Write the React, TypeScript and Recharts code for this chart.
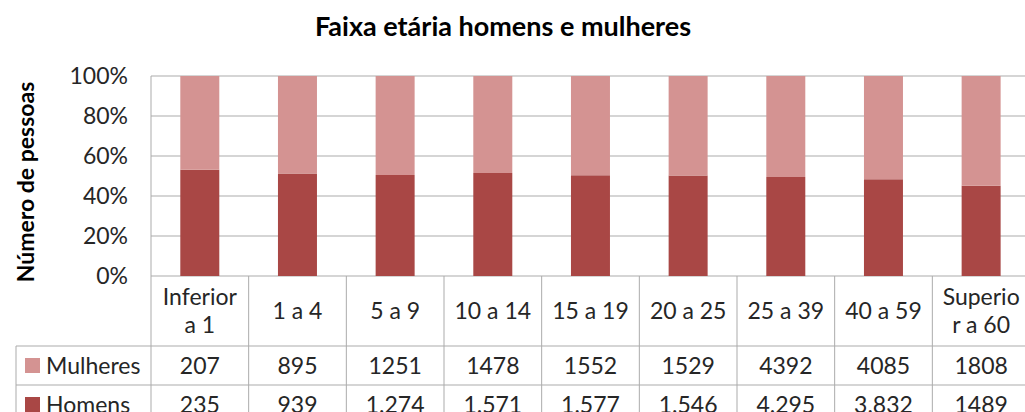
import { BarChart, Bar, XAxis, YAxis, CartesianGrid } from 'recharts'

const CATEGORIES = ['Inferior\na 1', '1 a 4', '5 a 9', '10 a 14', '15 a 19', '20 a 25', '25 a 39', '40 a 59', 'Superio\nr a 60']
const MULHERES = [207, 895, 1251, 1478, 1552, 1529, 4392, 4085, 1808]
const HOMENS = [235, 939, 1274, 1571, 1577, 1546, 4295, 3832, 1489]
// table text exactly as printed (the source mixes number formats)
const MULHERES_TEXT = ['207', '895', '1251', '1478', '1552', '1529', '4392', '4085', '1808']
const HOMENS_TEXT = ['235', '939', '1.274', '1.571', '1.577', '1.546', '4.295', '3.832', '1489']
const Y_TICKS = [0, 0.2, 0.4, 0.6, 0.8, 1]

const HOMENS_COLOR = '#A94745'
const MULHERES_COLOR = '#D49392'
const GRID = '#ABABAB'
const TEXT = '#262626'
const FONT = 'Lato, "Noto Sans", sans-serif'

const CHART_W = 1040
const CHART_H = 440
const MARGIN = { top: 76, right: 10, bottom: 0, left: 0 }
const Y_W = 151
const X_H = 164
const PLOT_BOTTOM = CHART_H - MARGIN.bottom - X_H
const BAND = (CHART_W - MARGIN.left - MARGIN.right - Y_W) / CATEGORIES.length
const ROW1 = PLOT_BOTTOM + 70
const ROW2 = ROW1 + 39
const ROW3 = ROW2 + 39
const LEGEND_LEFT = 16

const data = CATEGORIES.map((name, i) => ({ name, homens: HOMENS[i], mulheres: MULHERES[i] }))

function TableTick(props: any) {
  const { x, payload, index } = props
  const left = x - BAND / 2
  const right = x + BAND / 2
  const lines = String(payload.value).split('\n')
  const lineH = 28
  const midY = PLOT_BOTTOM + 35
  return (
    <g style={{ fontFamily: FONT }}>
      {index === 0 && (
        <g>
          <line x1={left} x2={left} y1={PLOT_BOTTOM} y2={CHART_H} stroke={GRID} />
          <line x1={LEGEND_LEFT} x2={left} y1={ROW1} y2={ROW1} stroke={GRID} />
          <line x1={LEGEND_LEFT} x2={left} y1={ROW2} y2={ROW2} stroke={GRID} />
          <line x1={LEGEND_LEFT} x2={left} y1={ROW3} y2={ROW3} stroke={GRID} />
          <line x1={LEGEND_LEFT} x2={LEGEND_LEFT} y1={ROW1} y2={CHART_H} stroke={GRID} />
          <rect x={25} y={ROW1 + 12} width={15} height={15} fill={MULHERES_COLOR} />
          <text x={46} y={(ROW1 + ROW2) / 2} dy="0.36em" fontSize={23} fill={TEXT}>Mulheres</text>
          <rect x={25} y={ROW2 + 12} width={15} height={15} fill={HOMENS_COLOR} />
          <text x={46} y={(ROW2 + ROW3) / 2} dy="0.36em" fontSize={23} fill={TEXT}>Homens</text>
        </g>
      )}
      <line x1={right} x2={right} y1={PLOT_BOTTOM} y2={CHART_H} stroke={GRID} />
      <line x1={left} x2={right} y1={ROW1} y2={ROW1} stroke={GRID} />
      <line x1={left} x2={right} y1={ROW2} y2={ROW2} stroke={GRID} />
      <line x1={left} x2={right} y1={ROW3} y2={ROW3} stroke={GRID} />
      {lines.map((t, k) => (
        <text
          key={k}
          x={x}
          y={midY + (k - (lines.length - 1) / 2) * lineH}
          dy="0.36em"
          textAnchor="middle"
          fontSize={23}
          fill={TEXT}
        >
          {t}
        </text>
      ))}
      <text x={x} y={(ROW1 + ROW2) / 2} dy="0.36em" textAnchor="middle" fontSize={23} fill={TEXT}>
        {MULHERES_TEXT[index]}
      </text>
      <text x={x} y={(ROW2 + ROW3) / 2} dy="0.36em" textAnchor="middle" fontSize={23} fill={TEXT}>
        {HOMENS_TEXT[index]}
      </text>
    </g>
  )
}

function YTick(props: any) {
  const { y, payload } = props
  return (
    <text x={128} y={y} dy="0.36em" textAnchor="end" fontSize={23} fill={TEXT} style={{ fontFamily: FONT }}>
      {`${Math.round(payload.value * 100)}%`}
    </text>
  )
}

export default function App() {
  return (
    <div
      style={{
        position: 'absolute',
        left: 0,
        top: 0,
        width: 1025,
        height: 412,
        overflow: 'hidden',
        background: '#ffffff',
        fontFamily: FONT,
      }}
    >
      <div
        style={{
          position: 'absolute',
          left: 0,
          top: 9,
          width: 1006,
          textAlign: 'center',
          fontSize: 27,
          fontWeight: 700,
          color: '#000',
        }}
      >
        Faixa etária homens e mulheres
      </div>
      <div
        style={{
          position: 'absolute',
          left: 25,
          top: 182,
          transform: 'translate(-50%, -50%) rotate(-90deg)',
          whiteSpace: 'nowrap',
          fontSize: 23,
          fontWeight: 700,
          color: '#000',
        }}
      >
        Número de pessoas
      </div>
      <div style={{ position: 'absolute', left: 0, top: 0 }}>
        <BarChart width={CHART_W} height={CHART_H} data={data} margin={MARGIN} stackOffset="expand" barCategoryGap="30%">
          <CartesianGrid vertical={false} stroke={GRID} />
          <XAxis
            dataKey="name"
            height={X_H}
            interval={0}
            axisLine={false}
            tickLine={false}
            tick={<TableTick />}
          />
          <YAxis
            width={Y_W}
            domain={[0, 1]}
            ticks={Y_TICKS}
            axisLine={{ stroke: GRID }}
            tickLine={false}
            tick={<YTick />}
          />
          <Bar dataKey="homens" stackId="a" fill={HOMENS_COLOR} isAnimationActive={false} />
          <Bar dataKey="mulheres" stackId="a" fill={MULHERES_COLOR} isAnimationActive={false} />
        </BarChart>
      </div>
    </div>
  )
}
